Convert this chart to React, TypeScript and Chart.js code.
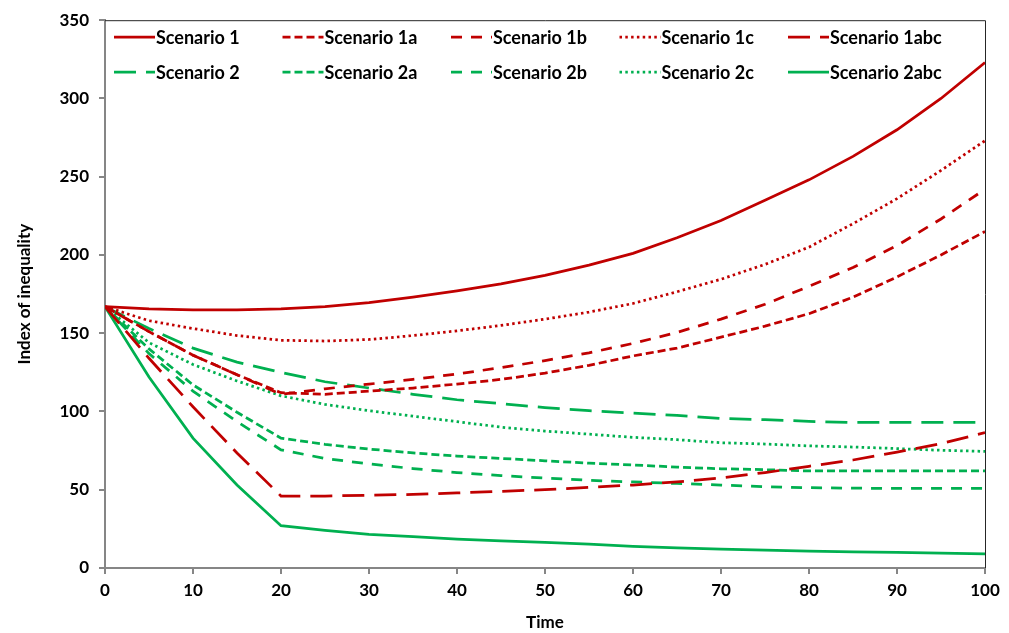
import React, { useEffect, useRef } from "react";
import { Chart, registerables } from "chart.js";

Chart.register(...registerables);

const times = [0, 5, 10, 15, 20, 25, 30, 35, 40, 45, 50, 55, 60, 65, 70, 75, 80, 85, 90, 95, 100];

const scenario1 = [167, 165.5, 165, 165, 165.5, 167, 169.5, 173, 177, 181.5, 187, 193.5, 201, 211, 222, 235, 248, 263, 280, 300, 323];
const scenario1a = [167, 151, 136, 123.5, 112, 111, 113, 115, 117.5, 120.5, 124.5, 129.5, 135.5, 140.5, 147.5, 154.5, 162.5, 173, 186, 200, 215];
const scenario1b = [167, 151, 136, 123.5, 111, 114.5, 117.5, 120.5, 124, 128, 132.5, 137.5, 143.5, 150.5, 159, 168.5, 180, 192, 206, 223, 242];
const scenario1c = [167, 158, 153, 148.5, 145.5, 145, 146, 148.5, 151.5, 155, 159, 163.5, 169, 176.5, 184.5, 194, 205, 220, 236, 254, 273];
const scenario1abc = [167, 134, 103, 73.5, 46, 46, 46.5, 47, 48, 49, 50, 51.5, 53, 55, 57.5, 61, 65, 69, 74, 79.5, 86.5];
const scenario2 = [167, 153, 140.5, 131.5, 125, 119, 115, 111, 107.5, 105, 102.5, 100.5, 99, 97.5, 95.5, 94.8, 93.7, 93, 93, 93, 93];
const scenario2a = [167, 140, 117, 99.5, 83, 79, 76, 73.5, 71.5, 70, 68.5, 67, 65.8, 64.5, 63.4, 62.8, 62, 62, 62, 62, 62];
const scenario2b = [167, 137, 113, 93.5, 75.5, 70, 66.5, 63.5, 61, 59, 57.5, 56, 55, 54, 53, 52, 51.3, 51, 50.8, 50.8, 50.8];
const scenario2c = [167, 144, 130, 119.5, 110, 104.5, 100.5, 97, 93.5, 90, 87.5, 85.5, 83.5, 82, 80, 79.2, 78, 77.3, 76.3, 75.2, 74.5];
const scenario2abc = [167, 122, 83, 53, 27, 24, 21.5, 20, 18.5, 17.3, 16.3, 15.3, 13.8, 12.8, 12, 11.4, 10.8, 10.3, 10, 9.5, 9.1];

const RED = "#C00000";
const GREEN = "#00B050";

const SOLID: number[] = [];
const SHORT_DASH = [8, 4];
const DASH = [11, 9];
const LONG_DASH = [22, 10];
const DOT = [2.5, 3.3];

const FONT = "Lato, 'Open Sans', sans-serif";

const insideLegend = {
  id: "insideLegend",
  afterDraw(chart: any) {
    const ctx = chart.ctx;
    const { left, top, right, bottom } = chart.chartArea;
    ctx.save();
    ctx.strokeStyle = "#262626";
    ctx.lineWidth = 1;
    ctx.setLineDash([]);
    ctx.beginPath();
    ctx.moveTo(left, top + 0.5);
    ctx.lineTo(right + 0.5, top + 0.5);
    ctx.lineTo(right + 0.5, bottom);
    ctx.stroke();

    chart.data.datasets.forEach((ds: any, i: number) => {
      const col = i % 5;
      const row = Math.floor(i / 5);
      const x = left + 9 + col * 168.5;
      const y = top + 17 + row * 35;
      ctx.setLineDash(ds.borderDash || []);
      ctx.strokeStyle = ds.borderColor;
      ctx.lineWidth = ds.borderWidth;
      ctx.lineCap = "butt";
      ctx.beginPath();
      ctx.moveTo(x, y);
      ctx.lineTo(x + 41, y);
      ctx.stroke();
      ctx.setLineDash([]);
      ctx.fillStyle = "#000";
      ctx.font = `bold 18px ${FONT}`;
      ctx.textBaseline = "middle";
      ctx.textAlign = "left";
      ctx.fillText(ds.label, x + 42, y + 1);
    });
    ctx.restore();
  },
};

function mk(label: string, values: number[], color: string, dash: number[]) {
  return {
    label,
    data: values.map((v, i) => ({ x: times[i], y: v })),
    borderColor: color,
    backgroundColor: color,
    borderWidth: 2.75,
    borderDash: dash,
    pointRadius: 0,
    tension: 0,
    fill: false,
  };
}

export default function App() {
  const ref = useRef<HTMLCanvasElement>(null);
  useEffect(() => {
    if (!ref.current) return;
    const chart = new Chart(ref.current, {
      type: "line",
      data: {
        datasets: [
          mk("Scenario 1", scenario1, RED, SOLID),
          mk("Scenario 1a", scenario1a, RED, SHORT_DASH),
          mk("Scenario 1b", scenario1b, RED, DASH),
          mk("Scenario 1c", scenario1c, RED, DOT),
          mk("Scenario 1abc", scenario1abc, RED, LONG_DASH),
          mk("Scenario 2", scenario2, GREEN, LONG_DASH),
          mk("Scenario 2a", scenario2a, GREEN, SHORT_DASH),
          mk("Scenario 2b", scenario2b, GREEN, DASH),
          mk("Scenario 2c", scenario2c, GREEN, DOT),
          mk("Scenario 2abc", scenario2abc, GREEN, SOLID),
        ] as any,
      },
      options: {
        animation: false,
        responsive: true,
        maintainAspectRatio: false,
        layout: { padding: { top: 18, right: 24, left: 0, bottom: 0 } },
        plugins: {
          legend: { display: false },
          tooltip: { enabled: false },
        },
        scales: {
          x: {
            type: "linear",
            min: 0,
            max: 100,
            ticks: {
              stepSize: 10,
              color: "#000",
              font: { family: FONT, size: 17, weight: "bold" },
              padding: 6,
            },
            grid: { drawOnChartArea: false, drawTicks: true, tickLength: 6, color: "#868686", lineWidth: 2 },
            border: { display: true, color: "#868686", width: 2 },
            title: {
              display: true,
              text: "Time",
              color: "#000",
              font: { family: FONT, size: 17, weight: "bold" },
              padding: { top: 0, bottom: 0 },
            },
            afterFit(scale: any) {
              scale.height = 65;
            },
          },
          y: {
            min: 0,
            max: 350,
            ticks: {
              stepSize: 50,
              color: "#000",
              font: { family: FONT, size: 17, weight: "bold" },
              padding: 10,
            },
            grid: { drawOnChartArea: false, drawTicks: true, tickLength: 6, color: "#868686", lineWidth: 2 },
            border: { display: true, color: "#868686", width: 2 },
            title: {
              display: true,
              text: "Index of inequality",
              color: "#000",
              font: { family: FONT, size: 17, weight: "bold" },
              padding: { top: 14, bottom: 0 },
            },
            afterFit(scale: any) {
              scale.width = 105;
            },
          },
        },
      } as any,
      plugins: [insideLegend],
    });
    return () => chart.destroy();
  }, []);

  return (
    <div style={{ position: "absolute", left: 0, top: 0, width: 1009, height: 633, background: "#fff" }}>
      <canvas ref={ref} />
    </div>
  );
}
